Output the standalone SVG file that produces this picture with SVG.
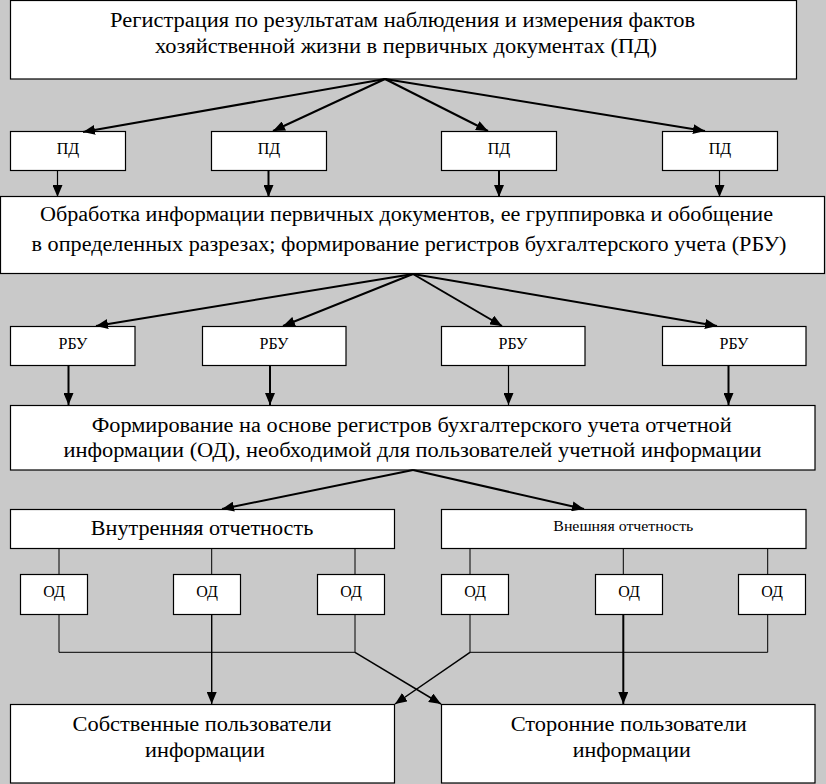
<svg xmlns="http://www.w3.org/2000/svg" width="826" height="784" viewBox="0 0 826 784" font-family="'Liberation Serif', 'DejaVu Serif', 'Noto Serif', serif">
<defs>
<marker id="ah" viewBox="0 0 12 10" refX="12" refY="5" markerWidth="12" markerHeight="10" markerUnits="userSpaceOnUse" orient="auto"><path d="M0,0 L12,5 L0,10 z" fill="#000"/></marker>
<style>
.box{fill:#fff;stroke:#000;stroke-width:1.2}
.t{fill:#000;text-anchor:middle}
.big{font-size:20px}
.sm{font-size:16px}
.c{fill:none;stroke:#000}
.a{marker-end:url(#ah)}
</style>
</defs>
<rect width="826" height="784" fill="#c9c9c9"/>

<g id="n-reg">
<rect class="box" x="10.5" y="0.5" width="786" height="78.5"/>
<text class="t big" x="402.5" y="27" textLength="585" lengthAdjust="spacingAndGlyphs">Регистрация по результатам наблюдения и измерения фактов</text>
<text class="t big" x="406" y="52.5" textLength="502" lengthAdjust="spacingAndGlyphs">хозяйственной жизни в первичных документах (ПД)</text>
</g>

<g id="n-pd1"><rect class="box" x="10.5" y="131.5" width="115" height="39"/><text class="t sm" x="68" y="154">ПД</text></g>
<g id="n-pd2"><rect class="box" x="211.5" y="131.5" width="115" height="39"/><text class="t sm" x="269" y="154">ПД</text></g>
<g id="n-pd3"><rect class="box" x="441.5" y="131.5" width="115" height="39"/><text class="t sm" x="499" y="154">ПД</text></g>
<g id="n-pd4"><rect class="box" x="662.5" y="131.5" width="115" height="39"/><text class="t sm" x="720" y="154">ПД</text></g>

<g id="n-proc">
<rect class="box" x="0.5" y="196.5" width="824" height="77"/>
<text class="t big" x="406.5" y="221" textLength="733" lengthAdjust="spacingAndGlyphs">Обработка информации первичных документов, ее группировка и обобщение</text>
<text class="t big" x="409" y="251" textLength="755" lengthAdjust="spacingAndGlyphs">в определенных разрезах; формирование регистров бухгалтерского учета (РБУ)</text>
</g>

<g id="n-rbu1"><rect class="box" x="10.5" y="326.5" width="124.5" height="39"/><text class="t sm" x="73" y="349">РБУ</text></g>
<g id="n-rbu2"><rect class="box" x="202.5" y="326.5" width="143.5" height="39"/><text class="t sm" x="274" y="349">РБУ</text></g>
<g id="n-rbu3"><rect class="box" x="441.5" y="326.5" width="143.5" height="39"/><text class="t sm" x="513" y="349">РБУ</text></g>
<g id="n-rbu4"><rect class="box" x="662.5" y="326.5" width="143.5" height="39"/><text class="t sm" x="734" y="349">РБУ</text></g>

<g id="n-form">
<rect class="box" x="10.5" y="405.5" width="804.5" height="64.5"/>
<text class="t big" x="411.7" y="431.5" textLength="640" lengthAdjust="spacingAndGlyphs">Формирование на основе регистров бухгалтерского учета отчетной</text>
<text class="t big" x="412.5" y="456.5" textLength="698" lengthAdjust="spacingAndGlyphs">информации (ОД), необходимой для пользователей учетной информации</text>
</g>

<g id="n-int">
<rect class="box" x="10.5" y="509.5" width="384" height="39"/>
<text class="t big" x="202" y="535" textLength="222.5" lengthAdjust="spacingAndGlyphs">Внутренняя отчетность</text>
</g>
<g id="n-ext">
<rect class="box" x="441.5" y="509.5" width="364.5" height="39"/>
<text class="t" x="623.3" y="530.7" font-size="14" textLength="140" lengthAdjust="spacingAndGlyphs">Внешняя отчетность</text>
</g>

<g id="n-od1"><rect class="box" x="20.5" y="574.5" width="67" height="40"/><text class="t sm" x="54" y="597">ОД</text></g>
<g id="n-od2"><rect class="box" x="173.5" y="574.5" width="67" height="40"/><text class="t sm" x="207" y="597">ОД</text></g>
<g id="n-od3"><rect class="box" x="317.5" y="574.5" width="67" height="40"/><text class="t sm" x="351" y="597">ОД</text></g>
<g id="n-od4"><rect class="box" x="441.5" y="574.5" width="67" height="40"/><text class="t sm" x="475" y="597">ОД</text></g>
<g id="n-od5"><rect class="box" x="595.5" y="574.5" width="67" height="40"/><text class="t sm" x="629" y="597">ОД</text></g>
<g id="n-od6"><rect class="box" x="738.5" y="574.5" width="67" height="40"/><text class="t sm" x="772" y="597">ОД</text></g>

<g id="n-own">
<rect class="box" x="10.5" y="704.5" width="384" height="78.5"/>
<text class="t big" x="202" y="731" textLength="259" lengthAdjust="spacingAndGlyphs">Собственные пользователи</text>
<text class="t big" x="205" y="756.7" textLength="120" lengthAdjust="spacingAndGlyphs">информации</text>
</g>
<g id="n-ext-users">
<rect class="box" x="441.5" y="704.5" width="373.5" height="78.5"/>
<text class="t big" x="628.7" y="731" textLength="236" lengthAdjust="spacingAndGlyphs">Сторонние пользователи</text>
<text class="t big" x="631.8" y="756.7" textLength="118" lengthAdjust="spacingAndGlyphs">информации</text>
</g>

<g id="connectors">
<path class="c a" stroke-width="2" d="M385,79 L83,132"/>
<path class="c a" stroke-width="2" d="M385,79 L273,131"/>
<path class="c a" stroke-width="2" d="M385,79 L488,131"/>
<path class="c a" stroke-width="2" d="M385,79 L705,131"/>
<path class="c a" stroke-width="1.2" d="M57.5,171 L57.5,197"/>
<path class="c a" stroke-width="2" d="M268.5,171 L268.5,197"/>
<path class="c a" stroke-width="2" d="M499,171 L499,197"/>
<path class="c a" stroke-width="1.2" d="M719.5,171 L719.5,197"/>

<path class="c a" stroke-width="2" d="M413,274 L96,326"/>
<path class="c a" stroke-width="2" d="M413,274 L283,326"/>
<path class="c a" stroke-width="2" d="M413,274 L502,326"/>
<path class="c a" stroke-width="2" d="M413,274 L717,326"/>
<path class="c a" stroke-width="2" d="M68.5,366 L68.5,405"/>
<path class="c a" stroke-width="2" d="M270,366 L270,405"/>
<path class="c a" stroke-width="1.2" d="M508.5,366 L508.5,405"/>
<path class="c a" stroke-width="2" d="M728.5,366 L728.5,405"/>

<path class="c a" stroke-width="2" d="M413,470 L222,509"/>
<path class="c a" stroke-width="2" d="M413,470 L584,509"/>

<path class="c" stroke-width="1" d="M59,549 V574 M211.7,549 V574 M355,549 V574 M470,549 V574 M623.3,549 V574 M767.7,549 V574"/>
<path class="c" stroke-width="1" d="M59,615 V652.3 H355 V615 M470,615 V652.3 H767.7 V615"/>
<path class="c a" stroke-width="1.4" d="M211.7,615 V704"/>
<path class="c a" stroke-width="2" d="M623.3,615 V704"/>
<path class="c a" stroke-width="1.5" d="M355,652.3 L441,704"/>
<path class="c a" stroke-width="1.5" d="M470,652.3 L395,704"/>
</g>
</svg>
